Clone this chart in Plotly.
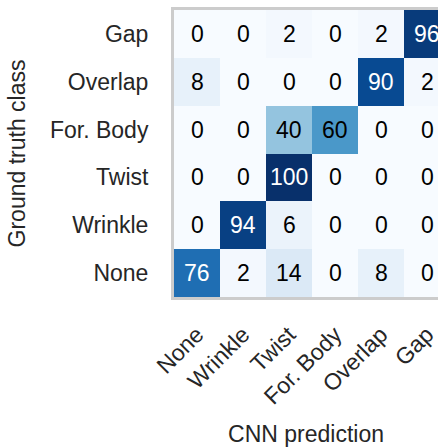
import plotly.graph_objects as go
import plotly.express as px

pred_labels = ["None", "Wrinkle", "Twist", "For. Body", "Overlap", "Gap"]
true_labels = ["None", "Wrinkle", "Twist", "For. Body", "Overlap", "Gap"]

# rows = ground truth (bottom to top: None ... Gap), columns = CNN prediction
row_none = [76, 2, 14, 0, 8, 0]
row_wrinkle = [0, 94, 6, 0, 0, 0]
row_twist = [0, 0, 100, 0, 0, 0]
row_forbody = [0, 0, 40, 60, 0, 0]
row_overlap = [8, 0, 0, 0, 90, 2]
row_gap = [0, 0, 2, 0, 2, 96]

z = [row_none, row_wrinkle, row_twist, row_forbody, row_overlap, row_gap]

FONT = "Liberation Sans, Arial, sans-serif"
FS = 23
TXT = "#262626"

fig = go.Figure(
    go.Heatmap(
        z=z,
        x=list(range(len(pred_labels))),
        y=list(range(len(true_labels))),
        colorscale=px.colors.sequential.Blues,
        zmin=0,
        zmax=100,
        showscale=False,
    )
)

annotations = []
for i, row in enumerate(z):
    for j, v in enumerate(row):
        annotations.append(
            dict(
                x=j, y=i, xref="x", yref="y",
                text=str(v), showarrow=False,
                font=dict(family=FONT, size=FS, color="white" if v > 65 else "black"),
            )
        )

fig.update_layout(
    width=438,
    height=447,
    margin=dict(l=174, r=0, t=10, b=150),
    paper_bgcolor="white",
    plot_bgcolor="white",
    font=dict(family=FONT, size=FS, color=TXT),
    annotations=annotations,
    xaxis=dict(
        tickmode="array",
        tickvals=list(range(len(pred_labels))),
        ticktext=pred_labels,
        tickangle=-45,
        range=[-0.5, 5.239],
        showline=True,
        linecolor="#cccccc",
        linewidth=3,
        mirror=True,
        ticks="",
        showgrid=False,
        zeroline=False,
        ticklabelstandoff=12,
        ticklabeloverflow="allow",
        tickfont=dict(family=FONT, size=FS, color=TXT),
        title=dict(text="CNN prediction", font=dict(family=FONT, size=FS, color=TXT), standoff=24),
        automargin=False,
    ),
    yaxis=dict(
        tickmode="array",
        tickvals=list(range(len(true_labels))),
        ticktext=true_labels,
        range=[-0.5, 5.5],
        showline=True,
        linecolor="#cccccc",
        linewidth=3,
        mirror=False,
        ticks="",
        showgrid=False,
        zeroline=False,
        ticklabelstandoff=18,
        tickfont=dict(family=FONT, size=FS, color=TXT),
        title=dict(text="Ground truth class", font=dict(family=FONT, size=FS, color=TXT), standoff=18),
        automargin=False,
    ),
)

fig.write_html(
    "out.html",
    config={"displayModeBar": False},
    post_script="document.body.style.margin='0px';document.body.style.overflow='hidden';",
)
